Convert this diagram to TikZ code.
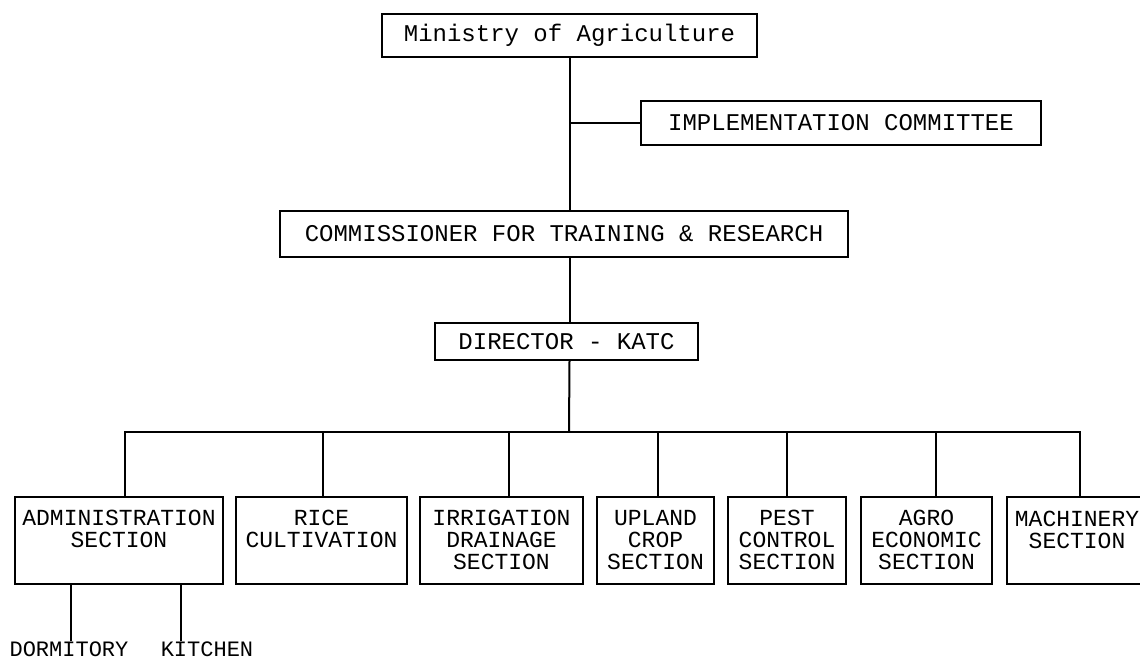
\documentclass[tikz,border=0pt]{standalone}
\usepackage{fontspec}
\setmonofont{Liberation Mono}
\begin{document}
\begin{tikzpicture}[x=1pt,y=-1pt,line width=1.5pt,
  topbox/.style={draw,inner sep=0pt,font=\ttfamily\fontsize{24}{24}\selectfont},
  sect/.style={draw,inner sep=0pt,minimum height=87pt},
  stxt/.style={anchor=north,inner sep=0pt,yshift=-13pt,align=center,font=\ttfamily\fontsize{23}{22}\selectfont},
  leaf/.style={inner sep=0pt,font=\ttfamily\fontsize{22}{22}\selectfont},
  conn/.style={line width=2pt}]
\useasboundingbox (0,0) rectangle (1140,659);
\clip (0,0) rectangle (1140,659);
% upper hierarchy
\node[topbox,minimum width=375pt,minimum height=43pt] (min) at (569.5,35.5) {Ministry of Agriculture};
\node[topbox,minimum width=400pt,minimum height=44pt] (impl) at (841,123) {IMPLEMENTATION COMMITTEE};
\node[topbox,minimum width=568pt,minimum height=46pt] (comm) at (564,234) {COMMISSIONER FOR TRAINING \& RESEARCH};
\node[topbox,minimum width=263pt,minimum height=37pt] (dir) at (566.5,341.5) {DIRECTOR - KATC};
\coordinate (bus) at (569,432);
\draw[conn] (min.south) -- (min.south |- comm.north);
\draw[conn] (min.south |- comm.south) -- (min.south |- dir.north);
\draw[conn] (min.south |- dir.south) -- (bus);
\draw (min.south |- impl.west) -- (impl.west);
% sections
\node[sect,minimum width=208pt] (admin) at (119,540.5) {};
\node[sect,minimum width=171pt] (rice) at (321.5,540.5) {};
\node[sect,minimum width=163pt] (irr) at (501.5,540.5) {};
\node[sect,minimum width=117pt] (upl) at (655.5,540.5) {};
\node[sect,minimum width=118pt] (pest) at (787,540.5) {};
\node[sect,minimum width=131pt] (agro) at (926.5,540.5) {};
\node[sect,minimum width=156pt] (mach) at (1085,540.5) {};
\node[stxt] (admint) at (admin.north) {ADMINISTRATION\\SECTION};
\node[stxt] (ricet) at (rice.north) {RICE\\CULTIVATION};
\node[stxt] (irrt) at (irr.north) {IRRIGATION\\DRAINAGE\\SECTION};
\node[stxt] (uplt) at (upl.north) {UPLAND\\CROP\\SECTION};
\node[stxt] (pestt) at (pest.north) {PEST\\CONTROL\\SECTION};
\node[stxt] (agrot) at (agro.north) {AGRO\\ECONOMIC\\SECTION};
\node[stxt] (macht) at (1077,497) {MACHINERY\\SECTION};
% drops
\coordinate (t1) at (125,497);
\coordinate (t2) at (323,497);
\coordinate (t3) at (509,497);
\coordinate (t4) at (658,497);
\coordinate (t5) at (787,497);
\coordinate (t6) at (936,497);
\coordinate (t7) at (1080,497);
\draw (t1) -- (t1 |- bus) -- (t7 |- bus) -- (t7);
\foreach \t in {t2,t3,t4,t5,t6} \draw (\t) -- (\t |- bus);
% leaves
\node[leaf] (dorm) at (69,649) {DORMITORY};
\node[leaf] (kit) at (207,649) {KITCHEN};
\coordinate (s1) at (71,641);
\coordinate (s2) at (181,641);
\draw[conn] (s1) -- (s1 |- admin.south);
\draw (s2) -- (s2 |- admin.south);
\end{tikzpicture}
\end{document}
